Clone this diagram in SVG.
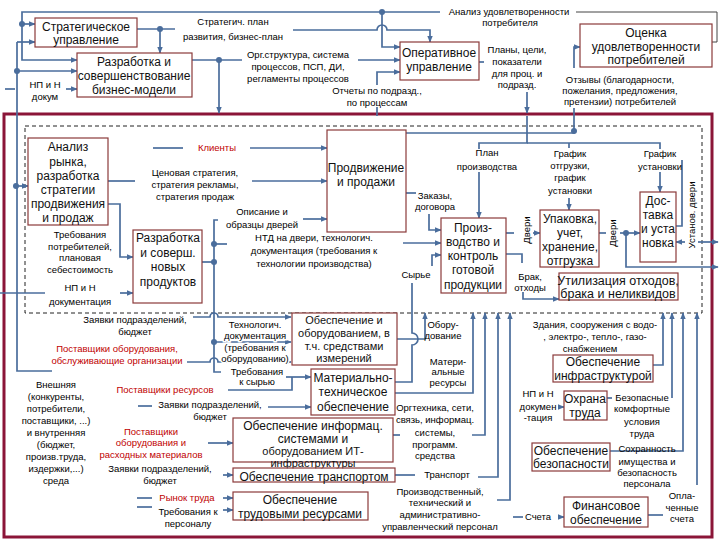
<svg xmlns="http://www.w3.org/2000/svg" width="720" height="540" viewBox="0 0 720 540">
<defs>
<marker id="a" viewBox="0 0 10 10" refX="9" refY="5" markerWidth="7" markerHeight="7" markerUnits="userSpaceOnUse" orient="auto"><path d="M0,1 L10,5 L0,9 z" fill="#4A6D9C"/></marker>
<style>
.box{fill:#fff;stroke:#8B3A3A;stroke-width:1.2}
.bt{font-family:"Liberation Sans",Arial,sans-serif;font-size:12px;text-anchor:middle;fill:#111}
.sm{font-size:11px}
.lb{font-family:"Liberation Sans",Arial,sans-serif;font-size:9.5px;text-anchor:middle;fill:#000}
.hl{paint-order:stroke;stroke:#fff;stroke-width:3px}
.red{fill:#C00000}
.c{stroke:#4A6D9C;stroke-width:1.7;fill:none}
.ca{stroke:#4A6D9C;stroke-width:1.7;fill:none;marker-end:url(#a)}
.t{stroke:#444;stroke-width:1;fill:none}
.d{fill:#4A6D9C}
</style>
</defs>
<rect x="0" y="0" width="720" height="540" fill="#fff"/>
<rect x="4" y="114" width="708" height="423" fill="none" stroke="#8B1538" stroke-width="3"/>
<rect x="25" y="126" width="677" height="187" fill="none" stroke="#222" stroke-width="1" stroke-dasharray="4,3"/>

<g id="connectors">
<path class="t" d="M712,42 H717 V12 H576"/>
<path class="ca" d="M440,12 H22 V60 H77"/>
<path class="ca" d="M22,24 H35"/>
<path class="ca" d="M17,42 H35"/>
<path class="c" d="M17,42 V371 H52"/>
<path class="ca" d="M17,71 H77"/>
<path class="ca" d="M17,186 H28"/>
<path class="c" d="M5,89 H15"/>
<path class="ca" d="M66,89 H77"/>
<path class="c" d="M137,29 H175"/>
<path class="ca" d="M160,29 V53"/>
<path class="ca" d="M293,30 H377 a5,5 0 0 1 10,0 H430 V42"/>
<path class="ca" d="M382,12 V47 H400"/>
<path class="c" d="M192,60 H242"/>
<path class="ca" d="M219,60 V113"/>
<path class="ca" d="M358,60 H400"/>
<path class="c" d="M377,116 V107"/>
<path class="ca" d="M377,85 V72 H400"/>
<path class="c" d="M479,62 H484"/>
<path class="ca" d="M527,92 V113"/>
<path class="c" d="M527,116 V143 H479 V149"/>
<path class="ca" d="M479,172 V218"/>
<path class="c" d="M527,143 H660 V149"/>
<path class="c" d="M569,143 V148"/>
<path class="ca" d="M569,198 V210"/>
<path class="ca" d="M660,172 V192"/>
<path class="c" d="M406,133 H574 V108"/>
<path class="ca" d="M574,68 V47 H580"/>
<path class="c" d="M153,148 H183"/>
<path class="ca" d="M250,148 H327"/>
<path class="c" d="M108,181 H135"/>
<path class="ca" d="M252,181 H327"/>
<path class="ca" d="M108,204 H120 V257 H133"/>
<path class="c" d="M0,293 H45"/>
<path class="ca" d="M120,293 H133"/>
<path class="c" d="M202,262 H214"/>
<path class="c" d="M218,220 H214 V372 H221"/>
<path class="c" d="M214,244 H227"/>
<path class="ca" d="M214,342 H291"/>
<path class="ca" d="M303,219 H327"/>
<path class="ca" d="M403,243 H441"/>
<path class="c" d="M406,193 H416"/>
<path class="ca" d="M429,214 V230 H441"/>
<path class="ca" d="M432,266 V255 H441"/>
<path class="c" d="M506,233 H514"/>
<path class="ca" d="M533,233 H540"/>
<path class="c" d="M599,233 H606"/>
<path class="ca" d="M620,233 H640"/>
<path class="ca" d="M626,233 V267 H718"/>
<path class="c" d="M506,254 H522 V263"/>
<path class="ca" d="M523,292 V299 H559"/>
<path class="c" d="M676,226 H682 V160"/>
<path class="ca" d="M685,242 H676"/>
<path class="ca" d="M698,242 H718"/>
<path class="ca" d="M193,317 H210 a4,4 0 0 1 8,0 H291"/>
<path class="ca" d="M187,362 H210 a4,4 0 0 1 8,0 H291"/>
<path class="ca" d="M286,377 H311"/>
<path class="c" d="M228,390 H292 V377"/>
<path class="c" d="M138,406 H152"/>
<path class="ca" d="M268,407 H311"/>
<path class="ca" d="M397,339 H425 V313"/>
<path class="c" d="M395,382 H412 V345 a6,6 0 0 0 0,-12 V283"/>
<path class="ca" d="M395,393 H473 V313"/>
<path class="ca" d="M208,443 H233"/>
<path class="ca" d="M223,475 H233"/>
<path class="c" d="M137,498 H152"/>
<path class="ca" d="M223,498 H233"/>
<path class="c" d="M137,507 H152"/>
<path class="ca" d="M223,510 H233"/>
<path class="c" d="M393,435 H400"/>
<path class="ca" d="M472,435 H485 V313"/>
<path class="c" d="M395,475 H415"/>
<path class="ca" d="M478,477 H498 V313"/>
<path class="ca" d="M497,500 H510 V313"/>
<path class="ca" d="M653,365 H663 V313"/>
<path class="ca" d="M558,407 H564"/>
<path class="c" d="M607,398 H612"/>
<path class="ca" d="M672,398 V313"/>
<path class="ca" d="M610,451 H683 V313"/>
<path class="c" d="M648,515 H663"/>
<path class="ca" d="M697,485 V313"/>
<path class="c" d="M513,517 H523"/>
<path class="ca" d="M558,517 H564"/>
<circle class="d" cx="22" cy="24" r="3"/>
<circle class="d" cx="17" cy="71" r="3"/>
<circle class="d" cx="16" cy="186" r="3"/>
<circle class="d" cx="160" cy="29" r="3"/>
<circle class="d" cx="382" cy="12" r="3"/>
<circle class="d" cx="219" cy="60" r="3"/>
<circle class="d" cx="574" cy="131" r="3"/>
<circle class="d" cx="214" cy="244" r="3"/>
<circle class="d" cx="214" cy="262" r="3"/>
<circle class="d" cx="214" cy="342" r="3"/>
<circle class="d" cx="626" cy="233" r="3"/>
</g>

<g id="n1"><rect class="box" x="35" y="18" width="102" height="29"/><text class="bt" x="86" y="31">Стратегическое</text><text class="bt" x="86" y="44">управление</text></g>
<g id="n2"><rect class="box" x="77" y="53" width="115" height="44"/><text class="bt" x="134" y="66">Разработка и</text><text class="bt" x="134" y="80">совершенствование</text><text class="bt" x="134" y="94">бизнес-модели</text></g>
<g id="n3"><rect class="box" x="400" y="42" width="79" height="38"/><text class="bt" x="439" y="57">Оперативное</text><text class="bt" x="439" y="71">управление</text></g>
<g id="n4"><rect class="box" x="580" y="24" width="132" height="43"/><text class="bt" x="646" y="37">Оценка</text><text class="bt" x="646" y="51">удовлетворенности</text><text class="bt" x="646" y="64">потребителей</text></g>
<g id="n5"><rect class="box" x="28" y="138" width="80" height="87"/><text class="bt" x="68" y="151">Анализ</text><text class="bt" x="68" y="166">рынка,</text><text class="bt" x="68" y="180">разработка</text><text class="bt" x="68" y="194">стратегии</text><text class="bt" x="68" y="208">продвижения</text><text class="bt" x="68" y="222">и продаж</text></g>
<g id="n6"><rect class="box" x="133" y="230" width="69" height="73"/><text class="bt" x="168" y="242">Разработка</text><text class="bt" x="168" y="257">и соверш.</text><text class="bt" x="168" y="271">новых</text><text class="bt" x="168" y="286">продуктов</text></g>
<g id="n7"><rect class="box" x="327" y="130" width="79" height="102"/><text class="bt" x="366" y="172">Продвижение</text><text class="bt" x="366" y="186">и продажи</text></g>
<g id="n8"><rect class="box" x="441" y="218" width="65" height="75"/><text class="bt" x="473" y="232">Произ-</text><text class="bt" x="473" y="246">водство и</text><text class="bt" x="473" y="260">контроль</text><text class="bt" x="473" y="274">готовой</text><text class="bt" x="473" y="289">продукции</text></g>
<g id="n9"><rect class="box" x="540" y="210" width="59" height="57"/><text class="bt" x="570" y="223">Упаковка,</text><text class="bt" x="570" y="237">учет,</text><text class="bt" x="570" y="251">хранение,</text><text class="bt" x="570" y="265">отгрузка</text></g>
<g id="n10"><rect class="box" x="640" y="192" width="36" height="70"/><text class="bt" x="658" y="205">Дос-</text><text class="bt" x="658" y="219">тавка</text><text class="bt" x="658" y="233">и уста</text><text class="bt" x="658" y="247">новка</text></g>
<g id="n11"><rect class="box" x="559" y="273" width="119" height="27"/><text class="bt" x="618" y="285" style="font-size:12.5px">Утилизация отходов,</text><text class="bt" x="618" y="298" style="font-size:12.5px">брака и неликвидов</text></g>
<g id="n12"><rect class="box" x="292" y="313" width="105" height="52"/><text class="bt sm" x="344" y="324">Обеспечение и</text><text class="bt sm" x="344" y="337">оборудованием, в</text><text class="bt sm" x="344" y="349.5">т.ч. средствами</text><text class="bt sm" x="344" y="362">измерений</text></g>
<g id="n13"><rect class="box" x="311" y="369" width="84" height="46"/><text class="bt" x="353" y="382">Материально-</text><text class="bt" x="353" y="396">техническое</text><text class="bt" x="353" y="411">обеспечение</text></g>
<g id="n14"><rect class="box" x="233" y="418" width="160" height="44"/><text class="bt" x="313" y="430">Обеспечение информац.</text><text class="bt" x="313" y="443">системами и</text><text class="bt sm" x="313" y="455">оборудованием ИТ-</text><text class="bt sm" x="313" y="467">инфраструктуры</text></g>
<g id="n15"><rect class="box" x="233" y="468" width="162" height="14" fill-opacity="0.6"/><text class="bt" x="314" y="481">Обеспечение транспортом</text></g>
<g id="n16"><rect class="box" x="233" y="492" width="135" height="28"/><text class="bt" x="300" y="504">Обеспечение</text><text class="bt" x="300" y="518">трудовыми ресурсами</text></g>
<g id="n17"><rect class="box" x="553" y="355" width="100" height="27"/><text class="bt" x="603" y="366">Обеспечение</text><text class="bt" x="603" y="380">инфраструктурой</text></g>
<g id="n18"><rect class="box" x="564" y="391" width="43" height="29"/><text class="bt" x="585" y="403">Охрана</text><text class="bt" x="585" y="417">труда</text></g>
<g id="n19"><rect class="box" x="532" y="443" width="78" height="28"/><text class="bt" x="571" y="455">Обеспечение</text><text class="bt" x="571" y="468">безопасности</text></g>
<g id="n20"><rect class="box" x="564" y="497" width="84" height="30"/><text class="bt" x="606" y="510">Финансовое</text><text class="bt" x="606" y="524">обеспечение</text></g>

<g id="labels">
<text class="lb" x="45" y="88">НП и Н</text><text class="lb" x="45" y="100">докум</text>
<text class="lb" x="233" y="25">Стратегич. план</text><text class="lb" x="233" y="40">развития, бизнес-план</text>
<text class="lb" x="509" y="15">Анализ удовлетворенности</text><text class="lb" x="510" y="26">потребителя</text>
<text class="lb" x="298" y="58">Орг.структура, система</text><text class="lb" x="298" y="70">процессов, ПСП, ДИ,</text><text class="lb" x="298" y="82">регламенты процессов</text>
<text class="lb" x="377" y="94">Отчеты по подразд.,</text><text class="lb" x="377" y="106">по процессам</text>
<text class="lb" x="517" y="53">Планы, цели,</text><text class="lb" x="517" y="65">показатели</text><text class="lb" x="517" y="77">для проц. и</text><text class="lb" x="517" y="88">подразд.</text>
<text class="lb" x="620" y="83">Отзывы (благодарности,</text><text class="lb" x="620" y="94">пожелания, предложения,</text><text class="lb" x="620" y="105">претензии) потребителей</text>
<text class="lb red" x="217" y="151">Клиенты</text>
<text class="lb" x="195" y="176">Ценовая стратегия,</text><text class="lb" x="195" y="188">стратегия рекламы,</text><text class="lb" x="195" y="200">стратегия продаж</text>
<text class="lb" x="262" y="215">Описание и</text><text class="lb" x="262" y="228">образцы дверей</text>
<text class="lb" x="80" y="238">Требования</text><text class="lb" x="80" y="250">потребителей,</text><text class="lb" x="80" y="261">плановая</text><text class="lb" x="80" y="273">себестоимость</text>
<text class="lb" x="80" y="291">НП и Н</text><text class="lb" x="80" y="305">документация</text>
<text class="lb" x="314" y="241">НТД на двери, технологич.</text><text class="lb" x="314" y="254">документация (требования к</text><text class="lb" x="314" y="267">технологии производства)</text>
<text class="lb" x="435" y="199">Заказы,</text><text class="lb" x="435" y="210">договора</text>
<text class="lb" x="416" y="278">Сырье</text>
<text class="lb" x="487" y="156">План</text><text class="lb" x="487" y="170">производства</text>
<text class="lb" x="570" y="157">График</text><text class="lb" x="570" y="169">отгрузки,</text><text class="lb" x="570" y="181">график</text><text class="lb" x="570" y="194">установки</text>
<text class="lb" x="660" y="157">График</text><text class="lb" x="660" y="170">установки</text>
<text class="lb" transform="translate(530,230) rotate(-90)">Двери</text>
<text class="lb" transform="translate(616,233) rotate(-90)">Двери</text>
<text class="lb" transform="translate(695,215) rotate(-90)">Установ. двери</text>
<text class="lb" x="530" y="280">Брак,</text><text class="lb" x="530" y="291">отходы</text>
<text class="lb" x="135" y="323">Заявки подразделений,</text><text class="lb" x="135" y="335">бюджет</text>
<text class="lb red" x="117" y="352">Поставщики оборудования,</text><text class="lb red" x="117" y="364">обслуживающие организации</text>
<text class="lb hl" x="255" y="328">Технологич.</text><text class="lb hl" x="255" y="339">документация</text><text class="lb hl" x="255" y="351">(требования к</text><text class="lb hl" x="255" y="362">оборудованию)</text>
<text class="lb" x="257" y="375">Требования</text><text class="lb" x="257" y="385">к сырью</text>
<text class="lb red" x="165" y="393">Поставщики ресурсов</text>
<text class="lb" x="210" y="408">Заявки подразделений,</text><text class="lb" x="210" y="420">бюджет</text>
<text class="lb" x="56" y="388">Внешняя</text><text class="lb" x="56" y="400">(конкуренты,</text><text class="lb" x="56" y="412">потребители,</text><text class="lb" x="56" y="424">поставщики, ...)</text><text class="lb" x="56" y="436">и внутренняя</text><text class="lb" x="56" y="448">(бюджет,</text><text class="lb" x="56" y="460">произв.труда,</text><text class="lb" x="56" y="472">издержки,...)</text><text class="lb" x="56" y="484">среда</text>
<text class="lb red" x="151" y="435">Поставщики</text><text class="lb red" x="151" y="446">оборудования и</text><text class="lb red" x="151" y="458">расходных материалов</text>
<text class="lb" x="160" y="472">Заявки подразделений,</text><text class="lb" x="160" y="484">бюджет</text>
<text class="lb red" x="187" y="501">Рынок труда</text>
<text class="lb" x="188" y="515">Требования к</text><text class="lb" x="188" y="527">персоналу</text>
<text class="lb" x="443" y="328">Обору-</text><text class="lb" x="443" y="339">дование</text>
<text class="lb" x="448" y="365">Матери-</text><text class="lb" x="448" y="375">альные</text><text class="lb" x="448" y="386">ресурсы</text>
<text class="lb" x="435" y="411">Оргтехника, сети,</text><text class="lb" x="435" y="423">связь, информац.</text><text class="lb" x="435" y="436">системы,</text><text class="lb" x="435" y="448">программ.</text><text class="lb" x="435" y="459">средства</text>
<text class="lb" x="447" y="478">Транспорт</text>
<text class="lb" x="440" y="495">Производственный,</text><text class="lb" x="440" y="506">технический и</text><text class="lb" x="440" y="518">административно-</text><text class="lb" x="440" y="530">управленческий персонал</text>
<text class="lb" x="595" y="328">Здания, сооружения с водо-</text><text class="lb" x="595" y="340">, электро-, тепло-, газо-</text><text class="lb" x="590" y="352">снабжением</text>
<text class="lb" x="538" y="397">НП и Н</text><text class="lb" x="538" y="410">докумен</text><text class="lb" x="538" y="421">-тация</text>
<text class="lb" x="642" y="401">Безопасные</text><text class="lb" x="642" y="412">комфортные</text><text class="lb" x="642" y="425">условия</text><text class="lb" x="642" y="437">труда</text>
<text class="lb" x="647" y="452">Сохранность</text><text class="lb" x="647" y="465">имущества и</text><text class="lb" x="647" y="476">безопасность</text><text class="lb" x="647" y="487">персонала</text>
<text class="lb" x="682" y="499">Опла-</text><text class="lb" x="682" y="511">ченные</text><text class="lb" x="682" y="522">счета</text>
<text class="lb" x="538" y="520">Счета</text>
</g>
</svg>
